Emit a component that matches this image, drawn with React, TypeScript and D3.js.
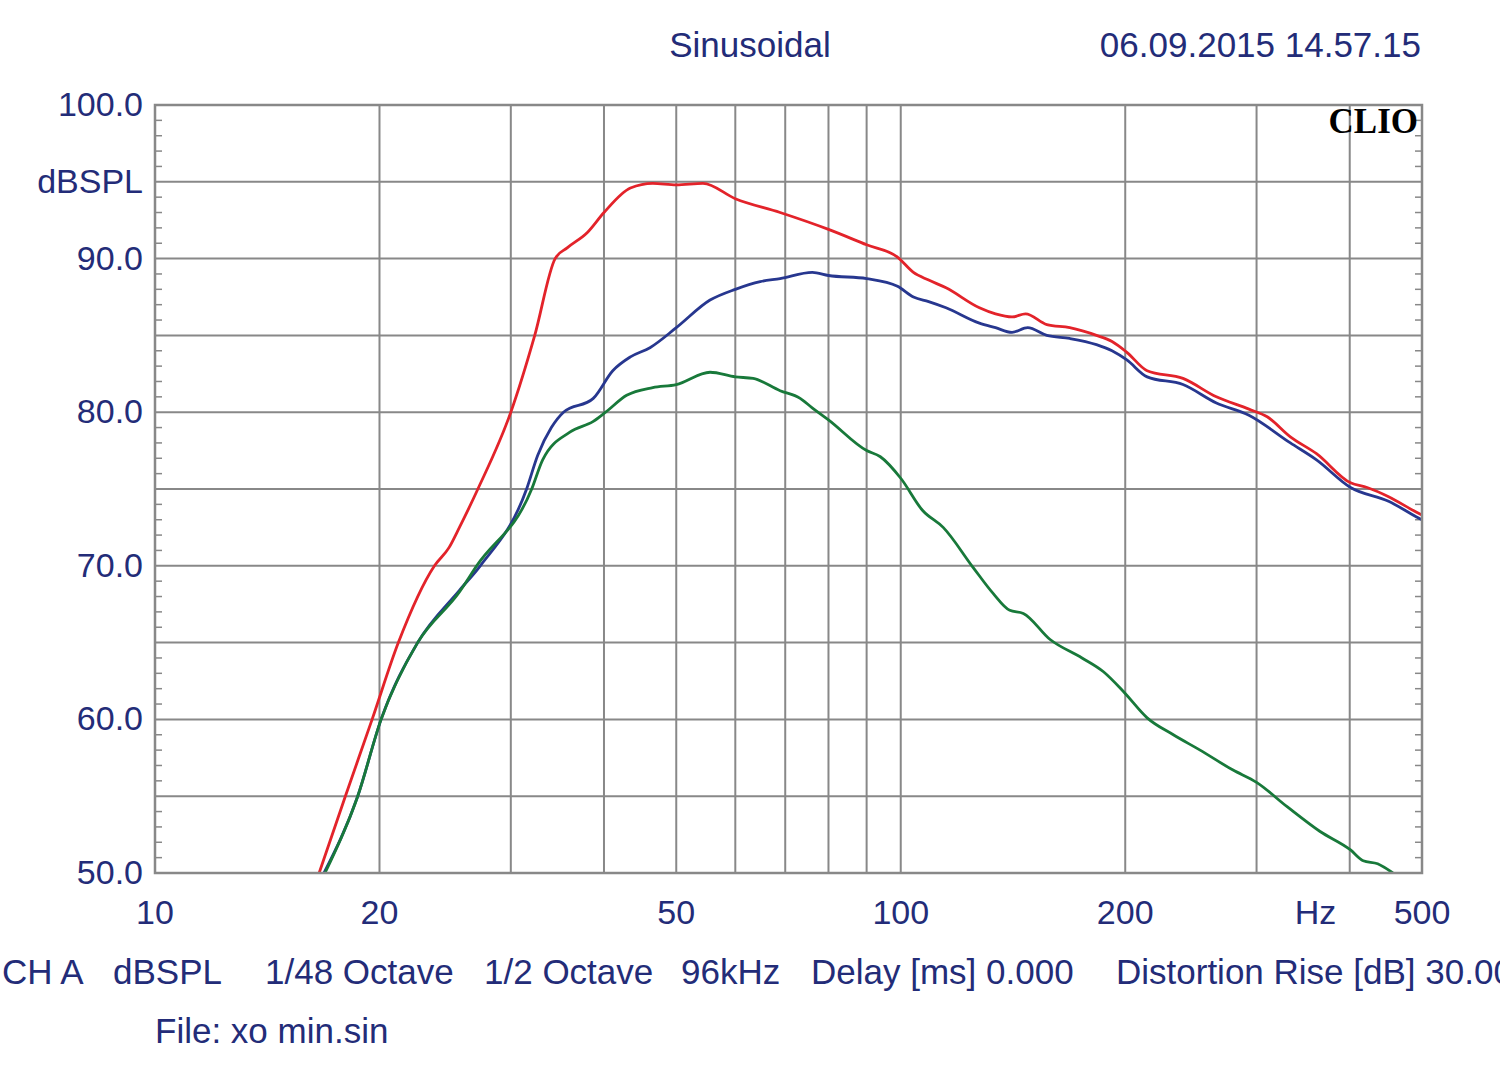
import * as d3 from "d3"

// (Hz / dBSPL)
const redFreq = [16.6, 18.0, 19.55, 21.2, 23.7, 24.8, 25.6, 27.1, 30.0, 32.3, 34.4, 35.7, 38.0, 40.0, 43.4, 46.5, 50, 54.3, 60, 68.9, 80, 90, 99, 104, 109, 115, 127.5, 134, 141, 147, 157, 168.5, 183, 192, 201, 214, 239, 265, 293, 310, 333, 361, 401, 422, 451, 491, 500]
const redDb = [50, 55, 60, 65, 70, 71.2, 72.5, 75, 80, 85, 90, 90.7, 91.7, 93.0, 94.6, 94.9, 94.8, 94.9, 93.9, 93.0, 91.9, 90.9, 90.1, 89.1, 88.6, 88.1, 86.8, 86.4, 86.2, 86.4, 85.7, 85.5, 85.0, 84.6, 83.9, 82.7, 82.2, 81.0, 80.2, 79.7, 78.4, 77.3, 75.4, 75.1, 74.5, 73.5, 73.3]

const blueFreq = [16.85, 18.7, 20.1, 22.5, 25.6, 27.3, 31.5, 32.6, 34.0, 35.3, 38.7, 41.1, 43.4, 46.1, 50, 55.5, 60, 64.8, 68.9, 76.1, 80, 90, 99, 104, 109, 115, 127.5, 134, 141, 148, 157, 168.5, 183, 192, 201, 214, 239, 265, 293, 333, 361, 401, 451, 491, 500]
const blueDb = [50, 55, 60, 65, 68.4, 70, 75, 77.2, 79.0, 80.0, 80.9, 82.7, 83.6, 84.2, 85.5, 87.3, 88.0, 88.5, 88.7, 89.1, 88.9, 88.7, 88.2, 87.5, 87.2, 86.8, 85.8, 85.5, 85.2, 85.5, 85.0, 84.8, 84.4, 84.0, 83.4, 82.3, 81.8, 80.6, 79.8, 78.0, 76.9, 75.1, 74.2, 73.2, 73.0]

const greenFreq = [16.9, 18.7, 20.1, 22.5, 25.6, 27.0, 32.0, 33.1, 36.0, 38.7, 40.2, 42.9, 46.5, 50, 55.5, 60, 63.4, 68.9, 73.3, 76, 80, 90, 93.9, 100, 107, 114, 125, 133, 140, 146, 158.6, 175, 187, 199, 214, 232, 252, 279, 300, 330, 365, 401, 417, 436, 457]
const greenDb = [50, 55, 60, 65, 68.3, 70, 75, 76.9, 78.7, 79.4, 80.0, 81.1, 81.6, 81.8, 82.6, 82.3, 82.2, 81.4, 80.9, 80.3, 79.5, 77.5, 77.1, 75.7, 73.6, 72.5, 69.9, 68.2, 67.1, 66.9, 65.2, 64.0, 63.1, 61.8, 60.1, 59.0, 58.0, 56.7, 55.9, 54.3, 52.7, 51.5, 50.8, 50.6, 50.0]

const xGrid = [20, 30, 40, 50, 60, 70, 80, 90, 100, 200, 300, 400]
const xLabels = [10, 20, 50, 100, 200, 500]
const yGrid = [55, 60, 65, 70, 75, 80, 85, 90, 95]
const yLabels = [100, 90, 80, 70, 60, 50]
const footerItems = ["CH A", "dBSPL", "1/48 Octave", "1/2 Octave", "96kHz", "Delay [ms] 0.000", "Distortion Rise [dB] 30.00"]
const footerX = [2, 113, 265, 484, 681, 811, 1116]

const W = 1500
const H = 1074
const margin = { top: 105, right: 78, bottom: 201, left: 155 }
const textColor = "#232c78"
const gridColor = "#888888"
const font = "'Liberation Sans', Arial, sans-serif"

export default function App() {
  const xScale = d3
    .scaleLog()
    .domain([10, 500])
    .range([margin.left, W - margin.right])

  const yScale = d3
    .scaleLinear()
    .domain([50, 100])
    .range([H - margin.bottom, margin.top])

  const line = d3
    .line<[number, number]>()
    .x((d) => xScale(d[0]))
    .y((d) => yScale(d[1]))
    .curve(d3.curveMonotoneX)

  const series = [
    { name: "red", color: "#e3232a", pts: redFreq.map((f, i) => [f, redDb[i]] as [number, number]) },
    { name: "blue", color: "#27378f", pts: blueFreq.map((f, i) => [f, blueDb[i]] as [number, number]) },
    { name: "green", color: "#18793a", pts: greenFreq.map((f, i) => [f, greenDb[i]] as [number, number]) },
  ]

  const [x0, x1] = xScale.range()
  const [y0, y1] = yScale.range()
  const minorTicks = d3.range(51, 100, 1).filter((d) => d % 5 !== 0)

  return (
    <svg
      width={W}
      height={H}
      style={{ position: "absolute", left: 0, top: 0, background: "white" }}
      fontFamily={font}
    >
      <defs>
        <clipPath id="plot">
          <rect x={x0} y={y1} width={x1 - x0} height={y0 - y1} />
        </clipPath>
      </defs>

      {/* header */}
      <text x={750} y={57} fontSize={35} fill={textColor} textAnchor="middle">
        Sinusoidal
      </text>
      <text x={1421} y={57} fontSize={35} fill={textColor} textAnchor="end">
        06.09.2015 14.57.15
      </text>

      {/* grid */}
      {xGrid.map((d) => (
        <line key={"xg" + d} x1={xScale(d)} x2={xScale(d)} y1={y1} y2={y0} stroke={gridColor} strokeWidth={2} />
      ))}
      {yGrid.map((d) => (
        <line key={"yg" + d} x1={x0} x2={x1} y1={yScale(d)} y2={yScale(d)} stroke={gridColor} strokeWidth={2} />
      ))}
      {minorTicks.map((d) => (
        <g key={"mt" + d}>
          <line x1={x0} x2={x0 + 7} y1={yScale(d)} y2={yScale(d)} stroke={gridColor} strokeWidth={1.5} />
          <line x1={x1 - 7} x2={x1} y1={yScale(d)} y2={yScale(d)} stroke={gridColor} strokeWidth={1.5} />
        </g>
      ))}

      {/* curves */}
      <g clipPath="url(#plot)">
        {series.map((s) => (
          <path key={s.name} d={line(s.pts) ?? ""} fill="none" stroke={s.color} strokeWidth={2.8} strokeLinejoin="round" />
        ))}
      </g>

      {/* frame */}
      <rect x={x0} y={y1} width={x1 - x0} height={y0 - y1} fill="none" stroke={gridColor} strokeWidth={2.5} />

      <text x={1418} y={133} fontSize={35} fontWeight="bold" fontFamily="'Liberation Serif', 'Times New Roman', serif" textAnchor="end" fill="black">
        CLIO
      </text>

      {/* y labels */}
      {yLabels.map((d) => (
        <text key={"yl" + d} x={143} y={yScale(d) + 2} fontSize={34} fill={textColor} textAnchor="end" dominantBaseline="middle">
          {d.toFixed(1)}
        </text>
      ))}
      <text x={143} y={yScale(95) + 2} fontSize={34} fill={textColor} textAnchor="end" dominantBaseline="middle">
        dBSPL
      </text>

      {/* x labels */}
      {xLabels.map((d) => (
        <text key={"xl" + d} x={xScale(d)} y={924} fontSize={34} fill={textColor} textAnchor="middle">
          {d}
        </text>
      ))}
      <text x={xScale(360)} y={924} fontSize={34} fill={textColor} textAnchor="middle">
        Hz
      </text>

      {/* footer */}
      {footerItems.map((t, i) => (
        <text key={t} x={footerX[i]} y={984} fontSize={35} fill={textColor}>
          {t}
        </text>
      ))}
      <text x={155} y={1043} fontSize={35} fill={textColor}>
        File: xo min.sin
      </text>
    </svg>
  )
}
